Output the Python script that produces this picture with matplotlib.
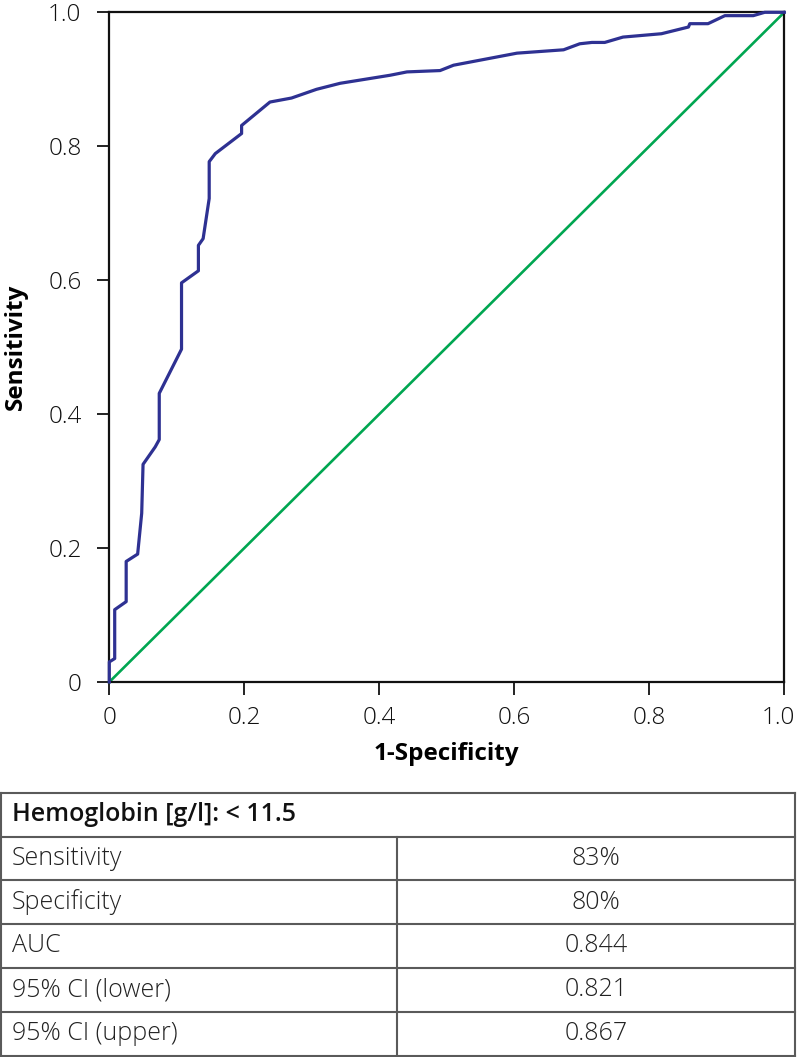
import matplotlib
matplotlib.use("Agg")
import matplotlib.pyplot as plt
import matplotlib.transforms as mtransforms

plt.rcParams['font.family'] = ['Open Sans', 'DejaVu Sans']

# ROC curve points (1-specificity, sensitivity)
fpr = [0.0, 0.0, 0.008, 0.008, 0.025, 0.025, 0.042, 0.048, 0.050, 0.068, 0.074, 0.074,
       0.107, 0.107, 0.132, 0.132, 0.139, 0.148, 0.148, 0.157, 0.196, 0.196, 0.238,
       0.270, 0.307, 0.342, 0.416, 0.441, 0.490, 0.510, 0.604, 0.673, 0.697, 0.715,
       0.734, 0.761, 0.818, 0.858, 0.860, 0.887, 0.912, 0.954, 0.971, 1.0]
tpr = [0.0, 0.030, 0.035, 0.108, 0.120, 0.180, 0.191, 0.252, 0.325, 0.351, 0.362, 0.431,
       0.497, 0.596, 0.614, 0.652, 0.662, 0.722, 0.777, 0.789, 0.819, 0.831, 0.866,
       0.872, 0.885, 0.894, 0.906, 0.911, 0.913, 0.921, 0.939, 0.944, 0.953, 0.955,
       0.955, 0.963, 0.968, 0.978, 0.983, 0.983, 0.995, 0.995, 1.0, 1.0]
ref_line = [0.0, 1.0]

ticks = [0, 0.2, 0.4, 0.6, 0.8, 1.0]
tick_labels = ['0', '0.2', '0.4', '0.6', '0.8', '1.0']

table_title = 'Hemoglobin [g/l]: < 11.5'
row_labels = ['Sensitivity', 'Specificity', 'AUC', '95% CI (lower)', '95% CI (upper)']
row_values = ['83%', '80%', '0.844', '0.821', '0.867']

W, H = 797, 1057
fig = plt.figure(figsize=(W / 100, H / 100), dpi=100)

# ROC axes
ax = fig.add_axes([109.3 / W, 1 - 682 / H, (784.3 - 109.3) / W, (682 - 12.3) / H])
ax.plot(ref_line, ref_line, color='#00A651', lw=1.9, zorder=2, clip_on=False)
ax.plot(fpr, tpr, color='#2E3192', lw=2.3, zorder=3, clip_on=False)
ax.set_xlim(0, 1)
ax.set_ylim(0, 1)
ax.set_xticks(ticks)
ax.set_xticklabels(tick_labels, fontweight='light')
ax.set_yticks(ticks)
ax.set_yticklabels(tick_labels, fontweight='light')
for s in ax.spines.values():
    s.set_linewidth(1.6)
    s.set_color('#111111')
ax.tick_params(direction='out', length=9, width=1.3, labelsize=17.5, colors='#111111')
ax.tick_params(axis='y', pad=11)
ax.tick_params(axis='x', pad=8)
ax.set_xlabel('1-Specificity', fontsize=17.5, fontweight='bold')
ax.set_ylabel('Sensitivity', fontsize=17.5, fontweight='bold')
ax.xaxis.set_label_coords(0.4996, -0.089)
ax.yaxis.set_label_coords(-0.121, 0.5)

# keep the last x tick label inside the figure
last = ax.get_xticklabels()[-1]
last.set_transform(last.get_transform() +
                   mtransforms.ScaledTranslation(-6 / 100, 0, fig.dpi_scale_trans))

# Table axes
tax = fig.add_axes([0, 0, 1, 1])
tax.set_xlim(0, W)
tax.set_ylim(H, 0)
tax.axis('off')
top, head_bot, bottom = 793, 836.5, 1055.5
left, right, divider = 1, 795, 397
row_h = (bottom - head_bot) / len(row_labels)
lc = '#5a5a5a'
lw = 1.5
tax.plot([left, right], [top, top], color=lc, lw=lw)
tax.plot([left, right], [head_bot, head_bot], color=lc, lw=lw)
for i in range(1, len(row_labels) + 1):
    y = head_bot + i * row_h
    tax.plot([left, right], [y, y], color=lc, lw=lw)
tax.plot([left, left], [top, bottom], color=lc, lw=lw)
tax.plot([right, right], [top, bottom], color=lc, lw=lw)
tax.plot([divider, divider], [head_bot, bottom], color=lc, lw=lw)

tax.text(12, (top + head_bot) / 2, table_title, fontsize=18, fontweight='semibold',
         va='center', ha='left', color='#111111')
for i, (lab, val) in enumerate(zip(row_labels, row_values)):
    yc = head_bot + (i + 0.5) * row_h
    tax.text(12, yc, lab, fontsize=18, fontweight='light', va='center', ha='left', color='#222222')
    tax.text((divider + right) / 2, yc, val, fontsize=18, fontweight='light',
             va='center', ha='center', color='#222222')

fig.savefig('out.png', dpi=100)
